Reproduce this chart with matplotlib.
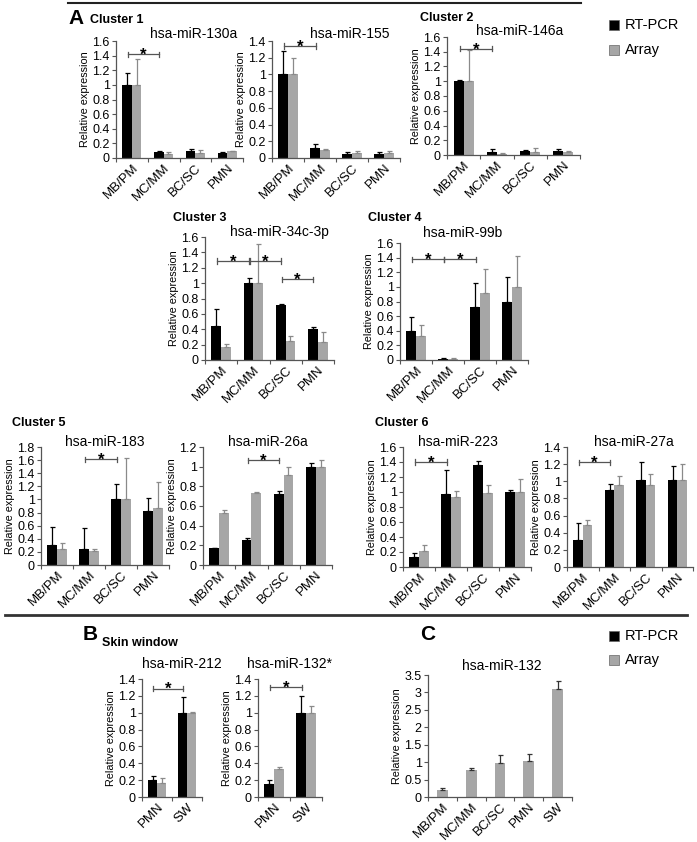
import matplotlib
matplotlib.use('Agg')
import matplotlib.pyplot as plt
import matplotlib.transforms as mtransforms
from matplotlib.ticker import FuncFormatter
from matplotlib.patches import Rectangle
import numpy as np

plt.rcParams['font.family'] = ['Liberation Sans', 'DejaVu Sans']

W, H = 697, 842

cats = ['MB/PM', 'MC/MM', 'BC/SC', 'PMN']
sw_cats = ['PMN', 'SW']
c_cats = ['MB/PM', 'MC/MM', 'BC/SC', 'PMN', 'SW']

# Cluster 1
mir130a_pcr = [1.0, 0.08, 0.09, 0.07]
mir130a_pcr_err = [0.16, 0.02, 0.03, 0.01]
mir130a_arr = [1.0, 0.06, 0.07, 0.09]
mir130a_arr_err = [0.35, 0.02, 0.04, 0.01]

mir155_pcr = [1.0, 0.12, 0.05, 0.05]
mir155_pcr_err = [0.28, 0.05, 0.02, 0.02]
mir155_arr = [1.0, 0.10, 0.06, 0.06]
mir155_arr_err = [0.20, 0.01, 0.02, 0.025]

# Cluster 2
mir146a_pcr = [1.0, 0.04, 0.05, 0.05]
mir146a_pcr_err = [0.02, 0.04, 0.02, 0.03]
mir146a_arr = [1.0, 0.02, 0.04, 0.04]
mir146a_arr_err = [0.42, 0.01, 0.05, 0.02]

# Cluster 3
mir34c_pcr = [0.44, 1.0, 0.72, 0.40]
mir34c_pcr_err = [0.22, 0.07, 0.01, 0.03]
mir34c_arr = [0.17, 1.0, 0.25, 0.24]
mir34c_arr_err = [0.04, 0.51, 0.06, 0.12]

# Cluster 4
mir99b_pcr = [0.39, 0.02, 0.73, 0.79]
mir99b_pcr_err = [0.20, 0.005, 0.32, 0.34]
mir99b_arr = [0.33, 0.02, 0.92, 1.0]
mir99b_arr_err = [0.15, 0.005, 0.32, 0.42]

# Cluster 5
mir183_pcr = [0.30, 0.25, 1.0, 0.83]
mir183_pcr_err = [0.28, 0.31, 0.23, 0.19]
mir183_arr = [0.24, 0.21, 1.0, 0.87]
mir183_arr_err = [0.09, 0.03, 0.63, 0.40]

mir26a_pcr = [0.17, 0.25, 0.72, 1.0]
mir26a_pcr_err = [0.005, 0.02, 0.03, 0.04]
mir26a_arr = [0.53, 0.73, 0.92, 1.0]
mir26a_arr_err = [0.03, 0.01, 0.08, 0.07]

# Cluster 6
mir223_pcr = [0.14, 0.98, 1.36, 1.0]
mir223_pcr_err = [0.05, 0.32, 0.06, 0.03]
mir223_arr = [0.21, 0.94, 0.99, 1.0]
mir223_arr_err = [0.09, 0.08, 0.10, 0.17]

mir27a_pcr = [0.31, 0.90, 1.02, 1.01]
mir27a_pcr_err = [0.20, 0.07, 0.20, 0.17]
mir27a_arr = [0.49, 0.96, 0.96, 1.01]
mir27a_arr_err = [0.06, 0.10, 0.13, 0.19]

# Skin window
mir212_pcr = [0.20, 1.0]
mir212_pcr_err = [0.05, 0.19]
mir212_arr = [0.17, 1.0]
mir212_arr_err = [0.05, 0.005]

mir132s_pcr = [0.16, 1.0]
mir132s_pcr_err = [0.04, 0.20]
mir132s_arr = [0.33, 1.0]
mir132s_arr_err = [0.03, 0.08]

# Panel C (array only)
mir132_arr = [0.21, 0.77, 0.98, 1.02, 3.10]
mir132_arr_err = [0.04, 0.06, 0.22, 0.21, 0.23]

BLACK = '#000000'
GRAY = '#A6A6A6'
AXC = '#555555'

fig = plt.figure(figsize=(W / 100, H / 100), dpi=100)


def px_axes(x0, y0, x1, y1):
    return fig.add_axes([x0 / W, 1 - y1 / H, (x1 - x0) / W, (y1 - y0) / H])


def ftext(x, y, s, **kw):
    fig.text(x / W, 1 - y / H, s, **kw)


def style(ax, labels, ymax, step):
    n = len(labels)
    ax.set_xlim(-0.5, n - 0.5)
    ax.set_ylim(0, ymax)
    ax.set_yticks(np.arange(0, ymax + 1e-9, step))
    ax.yaxis.set_major_formatter(FuncFormatter(lambda v, p: f'{round(v, 2):g}'))
    ax.set_xticks(np.arange(n + 1) - 0.5)
    ax.set_xticklabels([])
    ax.set_xticks(np.arange(n), minor=True)
    ax.set_xticklabels(labels, minor=True, rotation=45, ha='right',
                       va='top', rotation_mode='anchor', fontsize=9.5)
    off = mtransforms.ScaledTranslation(6 / 100, 0, fig.dpi_scale_trans)
    for lab in ax.get_xticklabels(minor=True):
        lab.set_transform(lab.get_transform() + off)
    ax.tick_params(axis='x', which='minor', length=0, pad=3)
    ax.tick_params(axis='x', which='major', length=3, width=0.8, color=AXC, direction='out')
    ax.tick_params(axis='y', length=3, width=0.8, color=AXC, labelsize=9, pad=1.5)
    for s in ['top', 'right']:
        ax.spines[s].set_visible(False)
    for s in ['left', 'bottom']:
        ax.spines[s].set_color(AXC)
        ax.spines[s].set_linewidth(0.9)
    ax.set_ylabel('Relative expression', fontsize=7.8, labelpad=2)


def sig(ax, i, j, y, ymax):
    x0, x1 = i - 0.12, j - 0.14
    d = ymax * 0.022
    ax.plot([x0, x1], [y, y], color=AXC, lw=0.9)
    ax.plot([x0, x0], [y - d, y + d], color=AXC, lw=0.9)
    ax.plot([x1, x1], [y - d, y + d], color=AXC, lw=0.9)
    ax.annotate('*', xy=((x0 + x1) / 2, y), xytext=(0, -4), textcoords='offset points',
                ha='center', va='baseline', fontsize=12, fontweight='bold')


def pair_panel(box, labels, pcr, pcr_err, arr, arr_err, ymax, step, sigs, title, tpos):
    ax = px_axes(*box)
    x = np.arange(len(labels))
    w = 0.3
    z = np.zeros(len(labels))
    ax.bar(x - w / 2, pcr, w, color=BLACK, yerr=[z, pcr_err],
           error_kw=dict(ecolor=BLACK, elinewidth=0.9, capsize=1.8, capthick=0.9))
    ax.bar(x + w / 2, arr, w, color=GRAY, yerr=[z, arr_err],
           error_kw=dict(ecolor='#8a8a8a', elinewidth=0.9, capsize=1.8, capthick=0.9))
    style(ax, labels, ymax, step)
    for i, j, y in sigs:
        sig(ax, i, j, y, ymax)
    ftext(tpos[0], tpos[1], title, ha='center', va='center', fontsize=10)
    return ax


# ---- Panel A ----
fig.add_artist(plt.Line2D([68 / W, 581 / W], [1 - 3 / H, 1 - 3 / H], color='#222222', lw=1.5))
ftext(68, 19, 'A', fontsize=15, fontweight='bold', va='center')
ftext(90, 20, 'Cluster 1', fontsize=9, fontweight='bold', va='center')
ftext(420, 18, 'Cluster 2', fontsize=9, fontweight='bold', va='center')
ftext(173, 218, 'Cluster 3', fontsize=9, fontweight='bold', va='center')
ftext(368, 218, 'Cluster 4', fontsize=9, fontweight='bold', va='center')
ftext(12, 423, 'Cluster 5', fontsize=9, fontweight='bold', va='center')
ftext(375, 423, 'Cluster 6', fontsize=9, fontweight='bold', va='center')

pair_panel((116, 41, 243, 158), cats, mir130a_pcr, mir130a_pcr_err, mir130a_arr, mir130a_arr_err,
           1.6, 0.2, [(0, 1, 1.42)], 'hsa-miR-130a', (194, 34))
pair_panel((272, 41, 400, 158), cats, mir155_pcr, mir155_pcr_err, mir155_arr, mir155_arr_err,
           1.4, 0.2, [(0, 1, 1.34)], 'hsa-miR-155', (350, 34))
pair_panel((447, 37, 580, 155), cats, mir146a_pcr, mir146a_pcr_err, mir146a_arr, mir146a_arr_err,
           1.6, 0.2, [(0, 1, 1.44)], 'hsa-miR-146a', (520, 31))
pair_panel((205, 237, 334, 360), cats, mir34c_pcr, mir34c_pcr_err, mir34c_arr, mir34c_arr_err,
           1.6, 0.2, [(0, 1, 1.29), (1, 2, 1.29), (2, 3, 1.05)], 'hsa-miR-34c-3p', (279, 232))
pair_panel((400, 243, 528, 360), cats, mir99b_pcr, mir99b_pcr_err, mir99b_arr, mir99b_arr_err,
           1.6, 0.2, [(0, 1, 1.38), (1, 2, 1.38)], 'hsa-miR-99b', (463, 233))
pair_panel((41, 447, 169, 565), cats, mir183_pcr, mir183_pcr_err, mir183_arr, mir183_arr_err,
           1.8, 0.2, [(1, 2, 1.61)], 'hsa-miR-183', (105, 442))
pair_panel((203, 447, 332, 565), cats, mir26a_pcr, mir26a_pcr_err, mir26a_arr, mir26a_arr_err,
           1.2, 0.2, [(1, 2, 1.065)], 'hsa-miR-26a', (268, 442))
pair_panel((403, 447, 531, 567), cats, mir223_pcr, mir223_pcr_err, mir223_arr, mir223_arr_err,
           1.6, 0.2, [(0, 1, 1.40)], 'hsa-miR-223', (458, 442))
pair_panel((567, 447, 693, 567), cats, mir27a_pcr, mir27a_pcr_err, mir27a_arr, mir27a_arr_err,
           1.4, 0.2, [(0, 1, 1.22)], 'hsa-miR-27a', (634, 442))

# ---- separator ----
fig.add_artist(plt.Line2D([5 / W, 687 / W], [1 - 615 / H, 1 - 615 / H], color='#333333', lw=2))

# ---- Panel B ----
ftext(83, 634, 'B', fontsize=15, fontweight='bold', va='center')
ftext(102, 643, 'Skin window', fontsize=9, fontweight='bold', va='center')
pair_panel((142, 679, 202, 797), sw_cats, mir212_pcr, mir212_pcr_err, mir212_arr, mir212_arr_err,
           1.4, 0.2, [(0, 1, 1.285)], 'hsa-miR-212', (182, 664))
pair_panel((258, 679, 322, 797), sw_cats, mir132s_pcr, mir132s_pcr_err, mir132s_arr, mir132s_arr_err,
           1.4, 0.2, [(0, 1, 1.30)], 'hsa-miR-132*', (289, 664))

# ---- Panel C ----
ftext(420, 634, 'C', fontsize=15, fontweight='bold', va='center')
axc = px_axes(428, 675, 572, 797)
xc = np.arange(len(c_cats))
axc.bar(xc, mir132_arr, 0.38, color=GRAY,
        yerr=[np.zeros(len(xc)), mir132_arr_err],
        error_kw=dict(ecolor='#333333', elinewidth=0.9, capsize=1.8, capthick=0.9))
style(axc, c_cats, 3.5, 0.5)
ftext(502, 666, 'hsa-miR-132', ha='center', va='center', fontsize=10)


# ---- legends ----
def legend_at(y1, y2):
    for y, col, lab in [(y1, BLACK, 'RT-PCR'), (y2, GRAY, 'Array')]:
        fig.add_artist(Rectangle((609 / W, 1 - (y + 5) / H), 10 / W, 10 / H,
                                 facecolor=col, edgecolor='#666666', lw=0.5,
                                 transform=fig.transFigure))
        ftext(625, y, lab, fontsize=10.5, va='center')


legend_at(25, 50)
legend_at(636, 660)

fig.savefig('out.png', dpi=100)
